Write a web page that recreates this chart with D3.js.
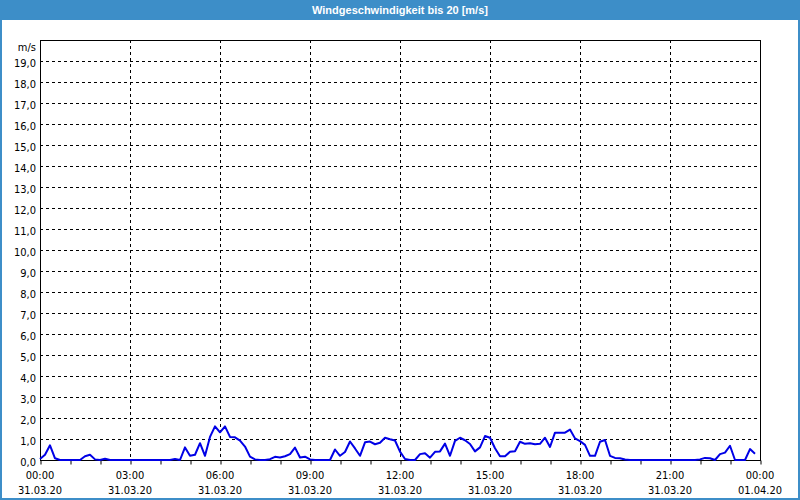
<!DOCTYPE html>
<html>
<head>
<meta charset="utf-8">
<script src="https://cdn.jsdelivr.net/npm/d3@7"></script>
<style>
  html, body { margin: 0; padding: 0; background: #fff; }
  svg { display: block; }
  text { font-family: "DejaVu Sans Condensed", "Liberation Sans", sans-serif; }
</style>
</head>
<body>
<div id="chart"></div>
<script>
document.addEventListener("DOMContentLoaded", function () {
    const width = 800, height = 500;

    // Chart data: wind speed in m/s, one reading every 10 minutes from 31.03.20 00:00
    const title = "Windgeschwindigkeit bis 20 [m/s]";
    const unitLabel = "m/s";
    const startTime = new Date(2020, 2, 31, 0, 0);
    const endTime = new Date(2020, 3, 1, 0, 0);
    const stepMinutes = 10;
    const windSpeed = [
        0.05, 0.25, 0.7, 0.08, 0, 0,          // 00
        0, 0, 0, 0.18, 0.25, 0.03,            // 01
        0, 0.06, 0, 0, 0, 0,                  // 02
        0, 0, 0, 0, 0, 0,                     // 03
        0, 0, 0, 0.05, 0, 0.6,                // 04
        0.2, 0.25, 0.8, 0.2, 1.1, 1.6,        // 05
        1.32, 1.6, 1.1, 1.08, 0.92, 0.64,     // 06
        0.16, 0.03, 0, 0, 0.04, 0.15,         // 07
        0.12, 0.18, 0.28, 0.59, 0.12, 0.16,   // 08
        0.03, 0, 0, 0, 0, 0.5,                // 09
        0.2, 0.38, 0.88, 0.55, 0.2, 0.84,     // 10
        0.88, 0.75, 0.82, 1.06, 0.99, 0.93,   // 11
        0.4, 0.05, 0, 0, 0.28, 0.32,          // 12
        0.11, 0.39, 0.41, 0.78, 0.2, 0.91,    // 13
        1.06, 0.94, 0.76, 0.41, 0.6, 1.14,    // 14
        1.06, 0.56, 0.18, 0.18, 0.39, 0.42,   // 15
        0.87, 0.77, 0.8, 0.75, 0.77, 1.06,    // 16
        0.62, 1.3, 1.3, 1.3, 1.45, 1.03,      // 17
        0.9, 0.72, 0.2, 0.2, 0.87, 0.95,      // 18
        0.2, 0.1, 0.08, 0.02, 0, 0,           // 19
        0, 0, 0, 0, 0, 0,                     // 20
        0, 0, 0, 0, 0, 0,                     // 21
        0.03, 0.1, 0.08, 0, 0.28, 0.35,       // 22
        0.68, 0, 0, 0, 0.52, 0.3              // 23
    ];
    const yTicks = d3.range(0, 20, 1);   // 0,0 ... 19,0

    const margin = { top: 40, right: 40, bottom: 40, left: 40 };

    const svg = d3.select("#chart")
        .append("svg")
        .attr("width", width)
        .attr("height", height);

    // Window frame and title bar
    svg.append("rect")
        .attr("x", 0).attr("y", 0)
        .attr("width", width).attr("height", height)
        .attr("fill", "#3d8ec8");
    svg.append("rect")
        .attr("x", 2).attr("y", 20)
        .attr("width", width - 4).attr("height", height - 22)
        .attr("fill", "#ffffff");
    svg.append("text")
        .attr("x", width / 2)
        .attr("y", 14)
        .attr("text-anchor", "middle")
        .attr("fill", "#ffffff")
        .style("font-family", "'Liberation Sans', sans-serif")
        .style("font-weight", "bold")
        .style("font-size", "11px")
        .text(title);

    const x = d3.scaleTime()
        .domain([startTime, endTime])
        .range([margin.left, width - margin.right]);
    const y = d3.scaleLinear()
        .domain([0, 20])
        .range([height - margin.bottom, margin.top]);

    const points = windSpeed.map((v, i) => ({
        time: d3.timeMinute.offset(startTime, i * stepMinutes),
        value: v
    }));

    // Horizontal grid
    svg.append("g")
        .selectAll("line")
        .data(yTicks.filter(d => d > 0))
        .enter().append("line")
        .attr("x1", margin.left).attr("x2", width - margin.right)
        .attr("y1", d => y(d) + 0.5).attr("y2", d => y(d) + 0.5)
        .style("stroke", "#000")
        .style("stroke-dasharray", "3,3");

    // Vertical grid every 3 hours
    const gridTimes = d3.timeHour.every(3).range(d3.timeHour.offset(startTime, 3), endTime);
    svg.append("g")
        .selectAll("line")
        .data(gridTimes)
        .enter().append("line")
        .attr("x1", d => Math.round(x(d)) + 0.5).attr("x2", d => Math.round(x(d)) + 0.5)
        .attr("y1", margin.top).attr("y2", height - margin.bottom)
        .style("stroke", "#000")
        .style("stroke-dasharray", "3,3");

    // Plot frame
    svg.append("rect")
        .attr("x", margin.left + 0.5)
        .attr("y", margin.top + 0.5)
        .attr("width", width - margin.left - margin.right)
        .attr("height", height - margin.top - margin.bottom)
        .attr("fill", "none")
        .style("stroke", "#000");

    // Y axis labels
    svg.append("g")
        .selectAll("text")
        .data(yTicks)
        .enter().append("text")
        .attr("x", margin.left - 4)
        .attr("y", d => y(d) + 6)
        .attr("text-anchor", "end")
        .style("font-size", "11px")
        .attr("fill", "#000")
        .text(d => d3.format(".1f")(d).replace(".", ","));
    svg.append("text")
        .attr("x", margin.left - 4)
        .attr("y", margin.top + 11)
        .attr("text-anchor", "end")
        .style("font-size", "11px")
        .text(unitLabel);

    // X axis: hourly ticks, labels every 3 hours
    const xAxis = d3.axisBottom(x)
        .ticks(d3.timeHour.every(1))
        .tickSize(4)
        .tickFormat("");
    svg.append("g")
        .attr("transform", `translate(0.5,${height - margin.bottom + 0.5})`)
        .call(xAxis)
        .call(g => g.select(".domain").remove())
        .call(g => g.selectAll(".tick line").attr("stroke", "#000"));

    const labelTimes = d3.timeHour.every(3).range(startTime, d3.timeMinute.offset(endTime, 1));
    const timeFmt = d3.timeFormat("%H:%M"), dateFmt = d3.timeFormat("%d.%m.%y");
    const labels = svg.append("g")
        .selectAll("g")
        .data(labelTimes)
        .enter().append("g")
        .attr("transform", d => `translate(${x(d)},0)`);
    labels.append("text")
        .attr("y", 479)
        .attr("text-anchor", "middle")
        .style("font-size", "11px")
        .text(timeFmt);
    labels.append("text")
        .attr("y", 494)
        .attr("text-anchor", "middle")
        .style("font-size", "11px")
        .text(dateFmt);

    // Wind speed line
    const line = d3.line()
        .x(d => x(d.time))
        .y(d => y(d.value));
    svg.append("path")
        .datum(points)
        .attr("d", line)
        .attr("fill", "none")
        .style("stroke", "#0000e6")
        .style("stroke-width", 2)
        .style("stroke-linejoin", "round");
});
</script>
</body>
</html>
